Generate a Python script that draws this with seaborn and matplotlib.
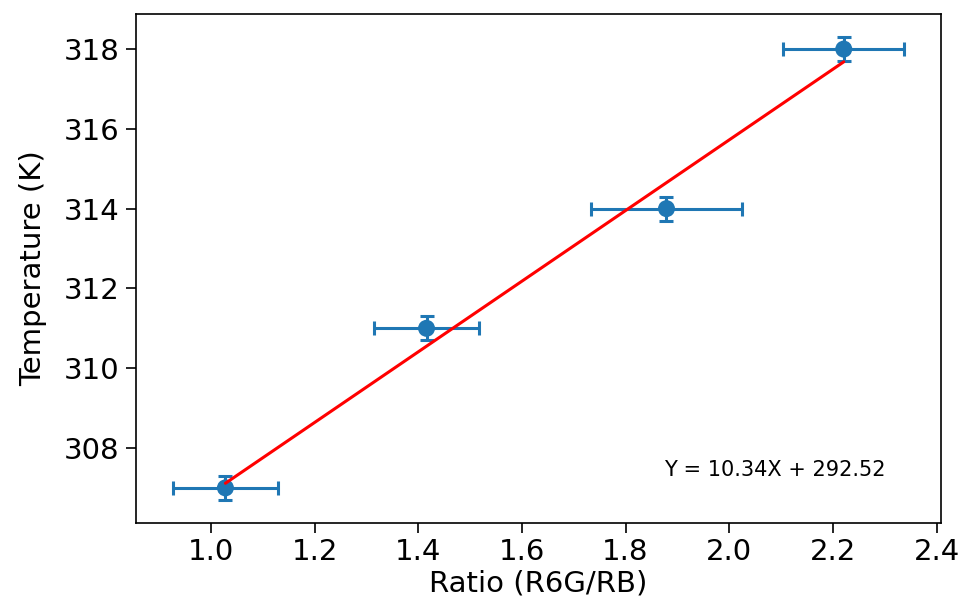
import numpy as np
import pandas as pd
import matplotlib
matplotlib.use("Agg")
import matplotlib.pyplot as plt
import seaborn as sns

# Measured intensity ratios and bath temperatures
ratio = [1.028, 1.416, 1.879, 2.221]
temperature = [307, 311, 314, 318]
ratio_err = [0.102, 0.102, 0.145, 0.117]
temp_err = [0.3, 0.3, 0.3, 0.3]
fit_label = "Y = 10.34X + 292.52"

sns.set_style("ticks")
plt.rcParams["font.family"] = ["DejaVu Sans"]
plt.rcParams.update({
    "text.color": "black",
    "axes.labelcolor": "black",
    "axes.edgecolor": "black",
    "xtick.color": "black",
    "ytick.color": "black",
})

fig = plt.figure(figsize=(9.67, 6.03), dpi=100)
ax = fig.add_axes([0.1406, 0.1327, 0.8325, 0.8441])

df = pd.DataFrame({"ratio": ratio, "temperature": temperature})

ax.errorbar(df["ratio"], df["temperature"], xerr=ratio_err, yerr=temp_err,
            fmt="none", ecolor="#1f77b4", elinewidth=2.2, capsize=5, capthick=2.2,
            zorder=2)
sns.scatterplot(data=df, x="ratio", y="temperature", ax=ax, color="#1f77b4",
                s=150, edgecolor="none", zorder=3)

# Least-squares line through the points
coef = np.polyfit(ratio, temperature, 1)
fit = pd.DataFrame({"ratio": [min(ratio), max(ratio)]})
fit["temperature"] = np.polyval(coef, fit["ratio"])
sns.lineplot(data=fit, x="ratio", y="temperature", ax=ax, color="red",
             linewidth=2.2, zorder=4)

ax.text(1.875, 307.3, fit_label, fontsize=15, ha="left", va="baseline")

ax.set_xlabel("Ratio (R6G/RB)", fontsize=21, labelpad=3)
ax.set_ylabel("Temperature (K)", fontsize=21, labelpad=12)
ax.set_xticks([1.0, 1.2, 1.4, 1.6, 1.8, 2.0, 2.2, 2.4])
ax.set_yticks([308, 310, 312, 314, 316, 318])
ax.tick_params(labelsize=21, length=7, width=1.2)
ax.tick_params(axis="y", pad=5)
for s in ax.spines.values():
    s.set_visible(True)
    s.set_linewidth(1.2)
ax.margins(0.05)

fig.savefig("out.png", dpi=100)
